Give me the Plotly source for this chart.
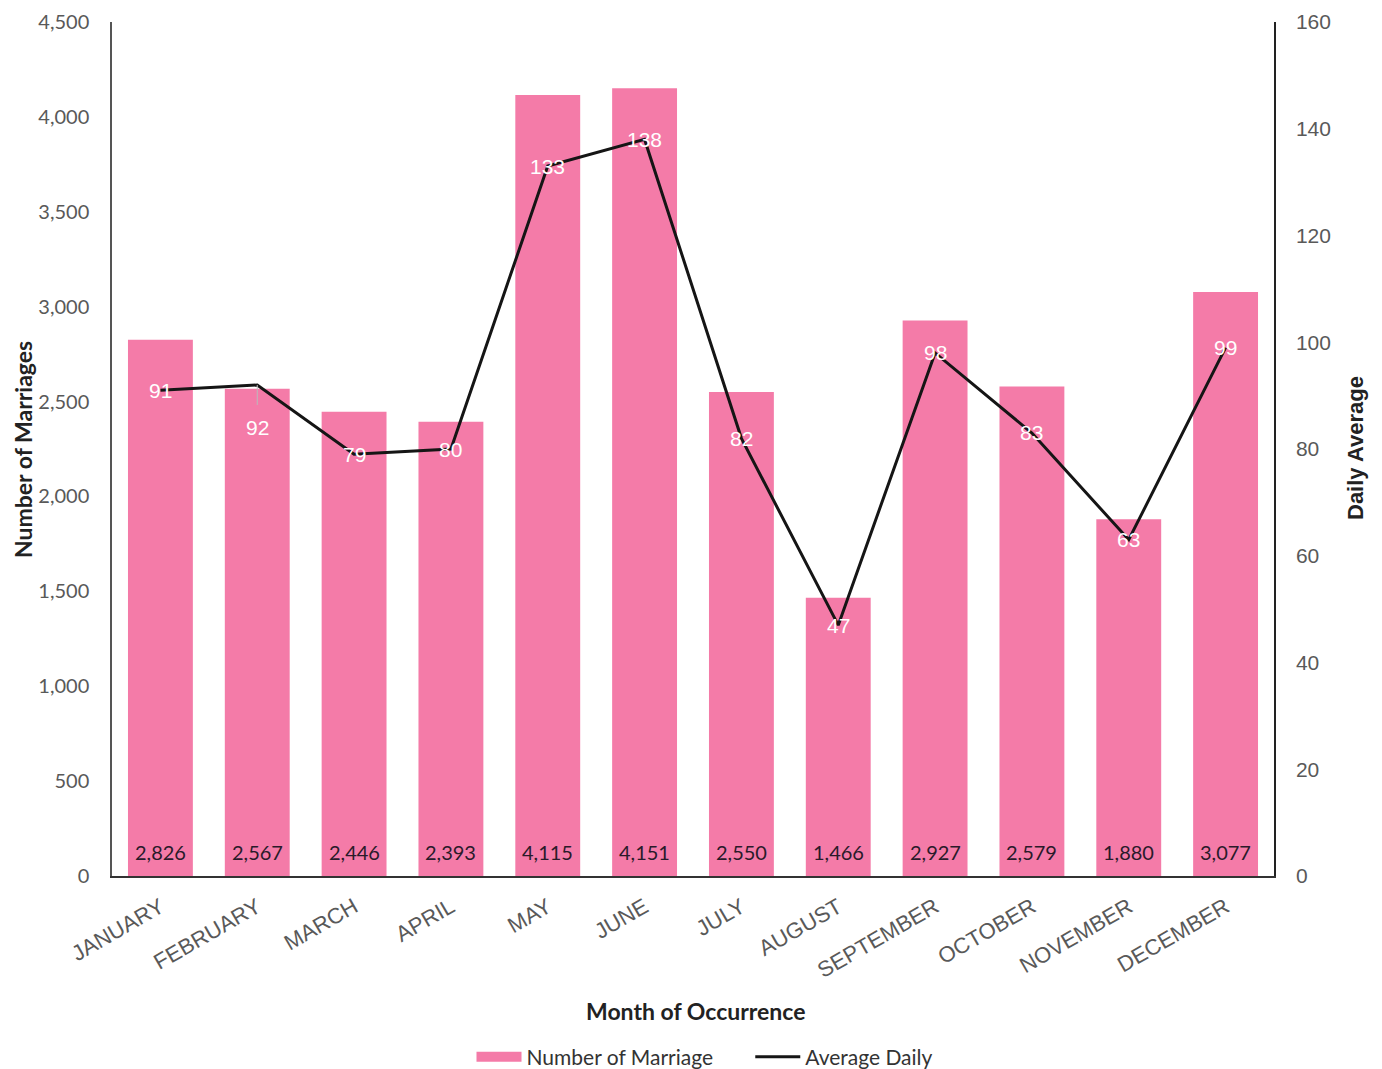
import plotly.graph_objects as go

months = ["JANUARY", "FEBRUARY", "MARCH", "APRIL", "MAY", "JUNE", "JULY",
          "AUGUST", "SEPTEMBER", "OCTOBER", "NOVEMBER", "DECEMBER"]
marriages = [2826, 2567, 2446, 2393, 4115, 4151, 2550, 1466, 2927, 2579, 1880, 3077]
daily_avg = [91, 92, 79, 80, 133, 138, 82, 47, 98, 83, 63, 99]
left_ticks = [0, 500, 1000, 1500, 2000, 2500, 3000, 3500, 4000, 4500]
right_ticks = [0, 20, 40, 60, 80, 100, 120, 140, 160]

# page body has an 8px margin, so the figure is sized to fit the window
W, H = 1374, 1061
ml, mr, mt, mb = 104, 108, 14, 193
PW, PH = W - ml - mr, H - mt - mb

PINK = "#F47BA8"

# pixel offsets for daily labels (style only)
label_dy = [0] * len(daily_avg)
label_dy[1] = 43

fig = go.Figure()
fig.add_trace(go.Bar(
    x=months, y=marriages, name="Number of Marriage", showlegend=False,
    marker=dict(color=PINK, line=dict(width=0)),
))
# legend swatch for bars (wide rectangle like the reference)
fig.add_trace(go.Scatter(
    x=[None], y=[None], mode="lines", name="Number of Marriage      ",
    line=dict(color=PINK, width=12),
))
fig.add_trace(go.Scatter(
    x=months, y=daily_avg, name="Average Daily", yaxis="y2",
    mode="lines", line=dict(color="#151515", width=3),
    cliponaxis=False,
))

annotations = []
for m, v in zip(months, marriages):
    annotations.append(dict(
        x=m, y=0, xref="x", yref="y", text=f"{v:,}", showarrow=False,
        yshift=24, xanchor="center", yanchor="middle",
        font=dict(family="Lato", size=20, color="#2a1a2a"),
    ))
for m, v, dy in zip(months, daily_avg, label_dy):
    if dy:
        annotations.append(dict(
            x=m, y=v, xref="x", yref="y2", text=str(v), showarrow=True,
            ax=0, ay=dy, arrowhead=0, arrowwidth=1, arrowcolor="#bbbbbb",
            standoff=0, startstandoff=10,
            font=dict(family="Liberation Sans", size=21, color="#ffffff"),
        ))
    else:
        annotations.append(dict(
            x=m, y=v, xref="x", yref="y2", text=str(v), showarrow=False,
            xanchor="center", yanchor="middle",
            font=dict(family="Liberation Sans", size=21, color="#ffffff"),
        ))

annotations += [
    dict(text="<b>Month of Occurrence</b>", xref="paper", yref="paper",
         x=(695 - 112) / PW, y=(876 - 1011) / PH, xanchor="center", yanchor="middle",
         showarrow=False, font=dict(family="Lato", size=23, color="#222222")),
    dict(text="<b>Number of Marriages</b>", xref="paper", yref="paper",
         x=(23 - 112) / PW, y=(876 - 450) / PH, xanchor="center", yanchor="middle",
         textangle=-90, showarrow=False,
         font=dict(family="Lato", size=23, color="#222222")),
    dict(text="<b>Daily Average</b>", xref="paper", yref="paper",
         x=(1355 - 112) / PW, y=(876 - 448) / PH, xanchor="center", yanchor="middle",
         textangle=-90, showarrow=False,
         font=dict(family="Liberation Sans", size=22, color="#222222")),
]

fig.update_layout(
    width=W, height=H,
    margin=dict(l=ml, r=mr, t=mt, b=mb, autoexpand=False),
    paper_bgcolor="white", plot_bgcolor="white",
    bargap=0.33,
    showlegend=True,
    legend=dict(orientation="h", x=(705 - 112) / PW, xanchor="center",
                y=(876 - 1057) / PH, yanchor="middle",
                font=dict(family="Lato", size=21, color="#333333"),
                itemwidth=45, traceorder="normal"),
    xaxis=dict(
        tickangle=-30, showgrid=False, ticks="", automargin=False,
        tickfont=dict(family="Liberation Sans", size=22, color="#595959"),
        ticklabelstandoff=8,
        showline=True, linecolor="#333333", linewidth=1.5, mirror=False,
    ),
    yaxis=dict(
        range=[0, 4500], tickvals=left_ticks, tickformat=",", automargin=False,
        showgrid=False, zeroline=False, ticks="",
        tickfont=dict(family="Lato", size=20, color="#595959"),
        showline=True, linecolor="#555555", linewidth=1.5, ticklabelstandoff=17,
    ),
    yaxis2=dict(
        range=[0, 160], tickvals=right_ticks, overlaying="y", side="right",
        showgrid=False, zeroline=False, ticks="", automargin=False,
        tickfont=dict(family="Liberation Sans", size=21, color="#595959"),
        showline=True, linecolor="#222222", linewidth=1.5, ticklabelstandoff=16,
    ),
    annotations=annotations,
)

fig.write_html("out.html")
